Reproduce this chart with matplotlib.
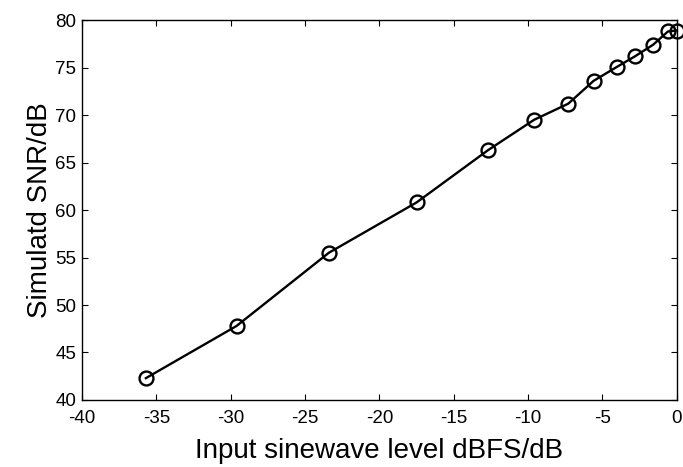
import matplotlib.pyplot as plt

plt.rcParams['font.family'] = ['Liberation Sans', 'DejaVu Sans']
plt.rcParams['axes.unicode_minus'] = False

# input level (dBFS) and simulated SNR (dB)
level = [-35.7, -29.6, -23.4, -17.5, -12.7, -9.6, -7.3, -5.6, -4.0, -2.8, -1.6, -0.6, 0.0]
snr = [42.3, 47.8, 55.5, 60.8, 66.3, 69.5, 71.2, 73.6, 75.1, 76.2, 77.4, 78.8, 78.9]

xticks = [-40, -35, -30, -25, -20, -15, -10, -5, 0]
yticks = [40, 45, 50, 55, 60, 65, 70, 75, 80]

fig = plt.figure(figsize=(6.83, 4.67), dpi=100)
ax = fig.add_axes([0.120, 0.1435, 0.871, 0.8135])

ax.plot(level, snr, color='black', linewidth=1.7, marker='o', markersize=10,
        markerfacecolor='none', markeredgewidth=1.7, clip_on=False)

ax.set_xlim(-40, 0)
ax.set_ylim(40, 80)
ax.set_xticks(xticks)
ax.set_yticks(yticks)
ax.tick_params(direction='in', top=True, right=True, length=4, labelsize=13.5, pad=4)
ax.tick_params(axis='x', pad=7)
for s in ax.spines.values():
    s.set_linewidth(1.0)

ax.set_xlabel('Input sinewave level dBFS/dB', fontsize=20, labelpad=8)
ax.set_ylabel('Simulatd SNR/dB', fontsize=20, labelpad=2)

fig.savefig('out.png', dpi=100)
